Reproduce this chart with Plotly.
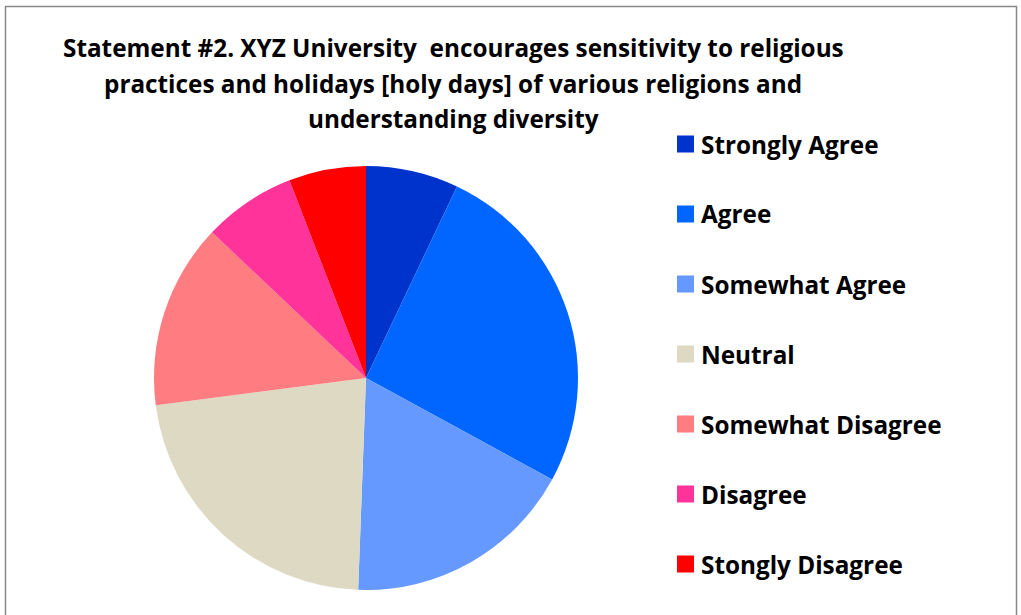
import plotly.graph_objects as go

labels = ["Strongly Agree", "Agree", "Somewhat Agree", "Neutral",
          "Somewhat Disagree", "Disagree", "Stongly Disagree"]
values = [6, 22, 15, 19, 12, 6, 5]
colors = ["#0033CC", "#0066FF", "#6699FF", "#DDD9C3",
          "#FF7C80", "#FF3399", "#FF0000"]
title_lines = ["Statement #2. XYZ University  encourages sensitivity to religious",
               "practices and holidays [holy days] of various religions and",
               "understanding diversity"]

W, H = 1021, 615
FONT = "Open Sans"
FS = 24.3

fig = go.Figure()
cx, cy, r = 366, 378, 212
fig.add_trace(go.Pie(
    labels=labels, values=values, sort=False, direction="clockwise", rotation=0,
    marker=dict(colors=colors, line=dict(width=0)),
    textinfo="none", hoverinfo="label+value+percent", showlegend=False,
    domain=dict(x=[(cx - r) / W, (cx + r) / W], y=[1 - (cy + r) / H, 1 - (cy - r) / H]),
))

shapes = [dict(type="rect", xref="paper", yref="paper", x0=5.5 / W, x1=1016.5 / W,
               y0=-0.05, y1=1 - 6.5 / H, line=dict(color="#888888", width=1.5),
               fillcolor="rgba(0,0,0,0)")]
annotations = []
for i, line in enumerate(title_lines):
    annotations.append(dict(text="<b>" + line + "</b>", x=453 / W, y=1 - (48 + 35 * i) / H,
                            xref="paper", yref="paper", xanchor="center", yanchor="middle",
                            showarrow=False, font=dict(family=FONT, size=FS, color="#000")))
for i, (lab, col) in enumerate(zip(labels, colors)):
    yc = 144 + 70 * i
    shapes.append(dict(type="rect", xref="paper", yref="paper",
                       x0=677 / W, x1=694 / W, y0=1 - (yc + 8.5) / H, y1=1 - (yc - 8.5) / H,
                       fillcolor=col, line=dict(width=0)))
    annotations.append(dict(text="<b>" + lab + "</b>", x=699 / W, y=1 - yc / H,
                            xref="paper", yref="paper", xanchor="left", yanchor="middle",
                            showarrow=False, font=dict(family=FONT, size=FS, color="#000")))

fig.update_layout(width=W, height=H, margin=dict(l=0, r=0, t=0, b=0),
                  paper_bgcolor="white", plot_bgcolor="white",
                  shapes=shapes, annotations=annotations)
fig.write_html("out.html")
